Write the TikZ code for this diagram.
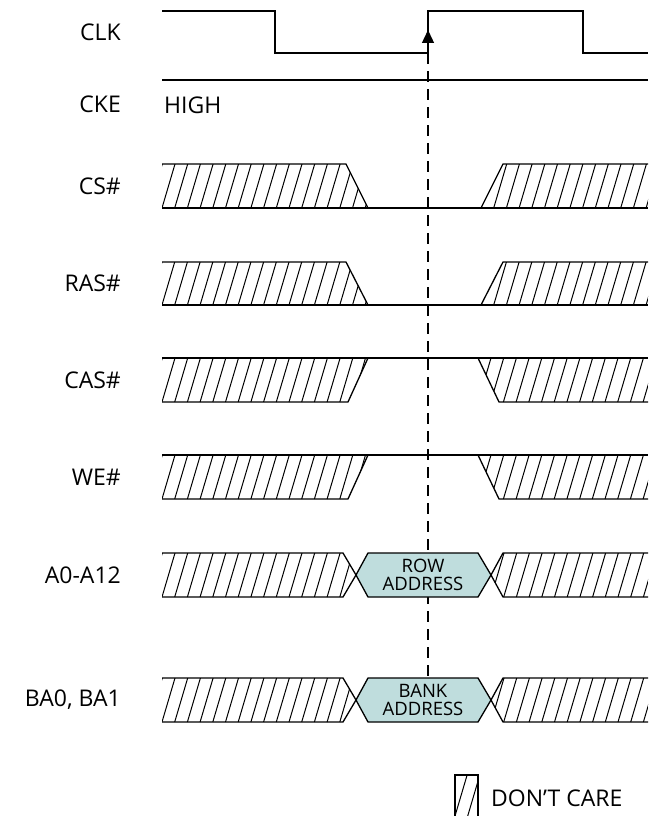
\documentclass[tikz,border=0pt]{standalone}
\usepackage{fontspec}
\setmainfont{Open Sans}
\usetikzlibrary{arrows.meta}

\definecolor{addrfill}{RGB}{191,221,221}

\tikzset{
  sig/.style={line width=1.3pt, line join=miter},
  dontcare/.style={path picture={
    \foreach \k in {-6,...,42}
      \draw[line width=1pt] ([xshift=\k*12.7pt]path picture bounding box.south west) -- ++(20pt,67.7pt);}},
  lbl/.style={anchor=east, inner sep=0pt, font=\fontsize{23}{26}\selectfont},
  addrtext/.style={inner sep=0pt, align=center, font=\fontsize{18.5}{17.5}\selectfont}
}

\begin{document}
\begin{tikzpicture}[x=1pt, y=-1pt]
  \useasboundingbox (0,0) rectangle (657,816);

  % Signal names
  \node[lbl] (clk) at (121,32) {CLK};
  \node[lbl] (cke) at (121,104) {CKE};
  \node[lbl] (cs) at (121,186) {CS\#};
  \node[lbl] (ras) at (121,283) {RAS\#};
  \node[lbl] (cas) at (121,380) {CAS\#};
  \node[lbl] (we) at (121,477) {WE\#};
  \node[lbl] (addr) at (121,575) {A0-A12};
  \node[lbl] (ba) at (121,700) {BA0, BA1};

  % Reference edge (behind the address boxes)
  \coordinate (edge) at (428,53);
  \coordinate (edgetip) at (428,30);
  \coordinate (banktop) at (428,678);
  \draw[sig, dash pattern=on 11pt off 7pt] (edge) -- (banktop);

  % Clock
  \draw[sig] (162,11) -- (275,11) -- (275,53) -- (428,53) -- (428,11) -- (583,11) -- (583,53) -- (648,53);
  \draw[sig, -{Triangle[length=13pt, width=12pt]}] (edge) -- (edgetip);

  % CKE held high
  \draw[sig] (162,80) -- (648,80);
  \node[anchor=west, inner sep=0pt, font=\fontsize{23}{26}\selectfont] (high) at (164,105) {HIGH};

  % CS# and RAS# (low at the edge)
  \foreach \t/\b in {164/208, 262/305} {
    \path[dontcare] (162,\t) -- (346,\t) -- (368,\b) -- (162,\b) -- cycle;
    \path[dontcare] (481,\b) -- (503,\t) -- (648,\t) -- (648,\b) -- cycle;
    \draw[sig] (162,\t) -- (346,\t) -- (368,\b);
    \draw[sig] (481,\b) -- (503,\t) -- (648,\t);
    \draw[sig] (162,\b) -- (648,\b);
  }

  % CAS# and WE# (high at the edge)
  \foreach \t/\b in {358/402, 455/499} {
    \path[dontcare] (162,\t) -- (368,\t) -- (348,\b) -- (162,\b) -- cycle;
    \path[dontcare] (478,\t) -- (499,\b) -- (648,\b) -- (648,\t) -- cycle;
    \draw[sig] (162,\b) -- (348,\b) -- (368,\t);
    \draw[sig] (478,\t) -- (499,\b) -- (648,\b);
    \draw[sig] (162,\t) -- (648,\t);
  }

  % Address and bank
  \foreach \t/\b/\txt in {553/597/ROW, 678/722/BANK} {
    \pgfmathsetmacro{\m}{(\t+\b)/2}
    \path[dontcare] (162,\t) -- (343,\t) -- (356,\m) -- (343,\b) -- (162,\b) -- cycle;
    \path[dontcare] (491,\m) -- (503,\t) -- (648,\t) -- (648,\b) -- (503,\b) -- cycle;
    \draw[sig] (162,\t) -- (343,\t) -- (356,\m) -- (343,\b) -- (162,\b);
    \draw[sig] (648,\t) -- (503,\t) -- (491,\m) -- (503,\b) -- (648,\b);
    \draw[sig, fill=addrfill] (356,\m) -- (368,\t) -- (478,\t) -- (491,\m) -- (478,\b) -- (368,\b) -- cycle;
    \node[addrtext] (a\txt) at (423,\m) {\txt\\ADDRESS};
  }

  % Legend
  \path[dontcare] (455,775) rectangle (478,816);
  \draw[sig] (455,816) -- (455,775) -- (478,775) -- (478,816);
  \node[anchor=west, inner sep=0pt, font=\fontsize{23}{26}\selectfont] (legend) at (491,798) {DON’T CARE};
\end{tikzpicture}
\end{document}
